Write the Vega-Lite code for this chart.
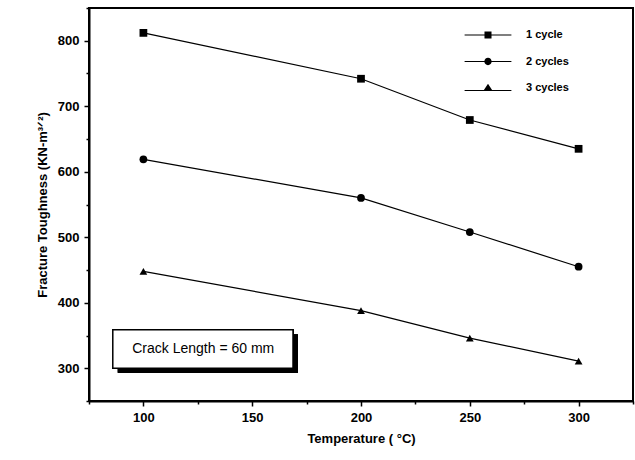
{
  "$schema": "https://vega.github.io/schema/vega-lite/v6.json",
  "autosize": "none",
  "width": 544,
  "height": 393,
  "padding": {"left": 89, "top": 8, "right": 2, "bottom": 59},
  "background": "white",
  "config": {
    "font": "Liberation Sans",
    "view": {"stroke": "black", "strokeWidth": 2},
    "axis": {
      "domainColor": "black",
      "domainWidth": 2,
      "tickColor": "black",
      "tickWidth": 1.5,
      "labelColor": "black",
      "titleColor": "black",
      "labelFont": "Liberation Sans",
      "titleFont": "Liberation Sans",
      "labelFontWeight": "bold",
      "titleFontWeight": "bold",
      "labelFontSize": 13,
      "titleFontSize": 13,
      "grid": false
    }
  },
  "data": {
    "values": [
      {"series": "1 cycle", "temp": 100, "kic": 812},
      {"series": "1 cycle", "temp": 200, "kic": 742},
      {"series": "1 cycle", "temp": 250, "kic": 679},
      {"series": "1 cycle", "temp": 300, "kic": 635},
      {"series": "2 cycles", "temp": 100, "kic": 619},
      {"series": "2 cycles", "temp": 200, "kic": 560},
      {"series": "2 cycles", "temp": 250, "kic": 508},
      {"series": "2 cycles", "temp": 300, "kic": 455},
      {"series": "3 cycles", "temp": 100, "kic": 448},
      {"series": "3 cycles", "temp": 200, "kic": 388},
      {"series": "3 cycles", "temp": 250, "kic": 346},
      {"series": "3 cycles", "temp": 300, "kic": 311}
    ]
  },
  "layer": [
    {
      "mark": {"type": "line", "color": "black", "strokeWidth": 1.2},
      "encoding": {
        "x": {
          "field": "temp", "type": "quantitative",
          "scale": {"domain": [75, 325], "nice": false, "zero": false},
          "axis": {"orient": "bottom", "title": "Temperature ( °C)", "values": [100, 150, 200, 250, 300], "tickSize": 5, "labelPadding": 5, "titlePadding": 8}
        },
        "y": {
          "field": "kic", "type": "quantitative",
          "scale": {"domain": [250, 850], "nice": false, "zero": false},
          "axis": {"orient": "left", "title": "Fracture Toughness (KN-m³ᐟ²)", "values": [300, 400, 500, 600, 700, 800], "tickSize": 5, "labelPadding": 5, "titlePadding": 8}
        },
        "detail": {"field": "series"}
      }
    },
    {
      "mark": {"type": "point", "filled": true, "color": "black", "opacity": 1},
      "encoding": {
        "x": {"field": "temp", "type": "quantitative", "axis": {"orient": "bottom", "values": [75, 125, 175, 225, 275, 325], "tickSize": 3, "labels": false, "title": null, "domain": false}},
        "y": {"field": "kic", "type": "quantitative", "axis": {"orient": "left", "values": [250, 350, 450, 550, 650, 750, 850], "tickSize": 3, "labels": false, "title": null, "domain": false}},
        "shape": {
          "field": "series", "type": "nominal",
          "scale": {"domain": ["1 cycle", "2 cycles", "3 cycles"], "range": ["square", "circle", "triangle-up"]},
          "legend": null
        },
        "size": {"value": 60}
      }
    },
    {
      "mark": {"type": "point", "filled": true, "color": "black", "opacity": 1},
      "encoding": {
        "x": {"field": "temp", "type": "quantitative", "axis": null},
        "y": {"field": "kic", "type": "quantitative", "axis": null},
        "shape": {
          "field": "series", "type": "nominal",
          "scale": {"domain": ["1 cycle", "2 cycles", "3 cycles"], "range": [
            "M-1.8,-0.04H1.8V0.04H-1.8ZM-0.27,-0.27H0.27V0.27H-0.27Z",
            "M-1.8,-0.04H1.8V0.04H-1.8ZM0.28,0A0.28,0.28 0 1,1 -0.28,0A0.28,0.28 0 1,1 0.28,0Z",
            "M-1.8,0.16H1.8V0.24H-1.8ZM0,-0.32L0.34,0.2L-0.34,0.2Z"
          ]},
          "legend": {
            "orient": "none",
            "legendX": 385,
            "legendY": 13,
            "title": null,
            "padding": 0,
            "symbolSize": 676,
            "rowPadding": 5.5,
            "labelOffset": 24,
            "labelFont": "Liberation Sans",
            "labelFontSize": 11,
            "labelFontWeight": "bold",
            "labelColor": "black",
            "symbolFillColor": "black",
            "symbolOpacity": 1
          }
        },
        "size": {"value": 0}
      }
    },
    {
      "mark": {"type": "rect", "color": "black"},
      "encoding": {
        "x": {"datum": 88.3, "type": "quantitative", "axis": null},
        "x2": {"datum": 171.0},
        "y": {"datum": 351, "type": "quantitative", "axis": null},
        "y2": {"datum": 293}
      }
    },
    {
      "mark": {"type": "rect", "fill": "white", "stroke": "black", "strokeWidth": 1.2},
      "encoding": {
        "x": {"datum": 86.0, "type": "quantitative", "axis": null},
        "x2": {"datum": 168.7},
        "y": {"datum": 358.4, "type": "quantitative", "axis": null},
        "y2": {"datum": 300.4}
      }
    },
    {
      "data": {"values": [{"label": "Crack Length = 60 mm"}]},
      "mark": {"type": "text", "font": "Liberation Sans", "fontSize": 14, "color": "black", "align": "center", "baseline": "middle"},
      "encoding": {
        "x": {"datum": 127.5, "type": "quantitative", "axis": null},
        "y": {"datum": 330, "type": "quantitative", "axis": null},
        "text": {"field": "label"}
      }
    }
  ],
  "resolve": {"axis": {"x": "independent", "y": "independent"}, "scale": {"shape": "independent"}}
}
